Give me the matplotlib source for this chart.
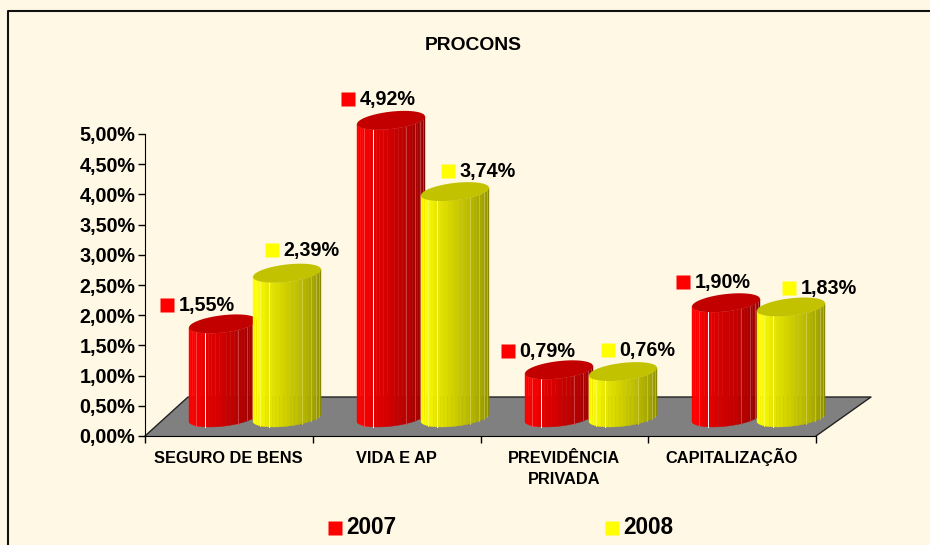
"""PROCONS chart: fake 3D cylinders drawn with polygon strips on a normal axes."""
import numpy as np
import matplotlib; matplotlib.use("Agg"); import matplotlib.pyplot as plt
from matplotlib.colors import to_rgb
from matplotlib.lines import Line2D
from matplotlib.patches import Polygon
from matplotlib.transforms import offset_copy

categories = ["SEGURO DE BENS", "VIDA E AP", "PREVIDÊNCIA\nPRIVADA", "CAPITALIZAÇÃO"]
v2007 = [1.55, 4.92, 0.79, 1.90]
v2008 = [2.39, 3.74, 0.76, 1.83]
labels2007 = ["1,55%", "4,92%", "0,79%", "1,90%"]
labels2008 = ["2,39%", "3,74%", "0,76%", "1,83%"]
yticks = [0, .5, 1, 1.5, 2, 2.5, 3, 3.5, 4, 4.5, 5]

W, H = 930, 545
BG = "#fff8e4"
plt.rcParams["font.family"] = ["Liberation Sans", "DejaVu Sans"]
fig = plt.figure(figsize=(W/100, H/100), dpi=100, facecolor=BG)
# pixel box of the value axis: x 145..816, y 436 (0%) .. 134 (5%)
ax = fig.add_axes([145/W, 1-436/H, (816-145)/W, (436-134)/H], facecolor="none")
ax.set_xlim(0, 4); ax.set_ylim(0, 5)
xu, yu = 671/4, 302/5  # pixels per unit

fig.add_artist(Line2D([8/W, 8/W, 1], [0, 1-11/H, 1-11/H], color="#111111", lw=1.5))

for s in ["top", "right"]: ax.spines[s].set_visible(False)
ax.spines["left"].set_color("black"); ax.spines["bottom"].set_color("black")
ax.set_yticks(yticks, [f"{t:.2f}%".replace(".", ",") for t in yticks], fontsize=14.2, fontweight="bold")
ax.set_xticks(range(5), [""]*5)
ax.tick_params(axis="y", length=5, pad=2, width=1)
ax.tick_params(axis="x", length=5, width=1)
for i, c in enumerate(categories):
    for n, line in enumerate(c.split("\n")):
        ax.annotate(line, (i+.5, 0), xytext=(-.5, -27-21*n), textcoords="offset pixels", ha="center", va="baseline",
                    fontsize=11.8, fontweight="bold", annotation_clip=False)

# floor
ax.add_patch(Polygon([(0, 0), (43/xu, 39/yu), (726/xu, 39/yu), (4, 0)], closed=True, fc="#808080",
                     ec="none", zorder=1, clip_on=False))
ax.plot([0, 43/xu, 726/xu, 4], [0, 39/yu, 39/yu, 0], color="#222222", lw=1, zorder=1.1, clip_on=False)


def cylinder(cx_px, val, base, z):
    cx, a = (cx_px-145)/xu, 34/xu
    b, y0, shear = 8.7/yu, 18.5/yu, .11*xu/yu
    ts = np.linspace(np.pi, 0, 29)
    base = np.array(to_rgb(base))
    for j in range(len(ts)-1):
        t = ts[[j, j+1]]
        xs = cx+a*np.cos(t)
        low = y0-b*np.sin(t)+shear*(xs-cx)
        f = j/(len(ts)-2)
        k = 1 if f < .15 else 1-.47*(f-.15)/.85
        col = base*k
        ax.add_patch(Polygon([(xs[0], low[0]), (xs[1], low[1]), (xs[1], low[1]+val), (xs[0], low[0]+val)],
                             closed=True, fc=col, ec=col, lw=.3, zorder=z, clip_on=False))
        if j in (5, 8, 17, 20, 22, 24):
            w = "white" if j == 8 else tuple(col*.75+.25)
            ax.plot([xs[1], xs[1]], [low[1], low[1]+val], color=w, lw=.7, zorder=z+.01, clip_on=False)
    tt = np.linspace(0, 2*np.pi, 60)
    xs = cx+a*np.cos(tt)
    ax.add_patch(Polygon(np.c_[xs, y0+val+b*np.sin(tt)+shear*(xs-cx)], closed=True, fc=base*.76, ec="none",
                         zorder=z+.02, clip_on=False))


def value_label(cx_px, val, text, col, dx, dy):
    y = val+18/yu
    x = (cx_px-145)/xu
    tr = offset_copy(ax.transData, fig=fig, x=dx, y=dy, units="dots")
    ax.plot([x], [y], marker="s", ms=9.4, mfc=col, mec="none", transform=tr, zorder=20, clip_on=False)
    ax.annotate(text, (x, y), xytext=(dx+11.5, dy+1.5), textcoords="offset pixels", va="center_baseline", ha="left",
                fontsize=14.2, fontweight="bold", zorder=20, annotation_clip=False)


red_x = [223, 391, 559, 726]
yel_x = [287, 455, 623, 791]
red_off = [(-56, 19), (-43, 22), (-51, 19), (-43, 21)]
yel_off = [(-15, 24), (-7, 21), (-15, 22), (-2, 19)]
for i in range(4):
    cylinder(red_x[i], v2007[i], "#ff0000", 3+2*i)
    cylinder(yel_x[i], v2008[i], "#ffff00", 4+2*i)
    value_label(red_x[i], v2007[i], labels2007[i], "#ff0000", *red_off[i])
    value_label(yel_x[i], v2008[i], labels2008[i], "#ffff00", *yel_off[i])

for x0, col, txt in [(335, "#ff0000", "2007"), (612, "#ffff00", "2008")]:
    fig.add_artist(Line2D([x0/W], [1-528/H], marker="s", ms=10, mfc=col, mec="none", ls="none"))
    fig.text((x0+11)/W, 1-534/H, txt, fontsize=16.3, fontweight="bold", va="baseline")

fig.text(473.5/W, 1-46/H, "PROCONS", ha="center", va="center", fontsize=13.9, fontweight="bold")
fig.savefig("out.png", dpi=100, facecolor=BG)
